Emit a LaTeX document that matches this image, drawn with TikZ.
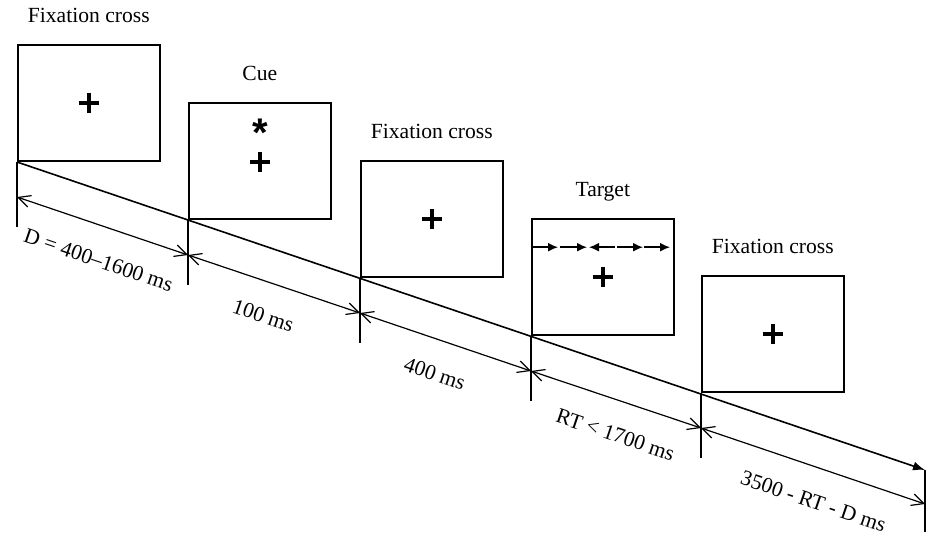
\documentclass[tikz,border=0pt]{standalone}
\usepackage{fontspec}
\setmainfont{Liberation Serif}
\newfontfamily\starfont{Liberation Sans}
\usepackage{tikz}
\usetikzlibrary{arrows.meta,calc}

\begin{document}
\begin{tikzpicture}[x=0.5pt,y=-0.5pt,line width=0.8pt,
    every node/.style={font=\fontsize{10.8pt}{13pt}\selectfont},
    frame/.style={shape=rectangle, draw, anchor=south west, minimum width=71pt, minimum height=58pt, inner sep=0pt},
    title/.style={text depth=0pt, inner sep=0pt, label distance=10.5pt},
    fixcross/.style={shape=rectangle, minimum size=10pt, inner sep=0pt,
        path picture={\draw[line width=2pt] (path picture bounding box.north) -- (path picture bounding box.south)
            (path picture bounding box.west) -- (path picture bounding box.east);}},
    span/.style={{Straight Barb[length=6pt,width=6pt]}-{Straight Barb[length=6pt,width=6pt]}, line width=0.6pt},
    dur/.style={pos=#1, sloped, below=9.5pt},
    dur/.default=0.5,
    flank/.style={-{Latex[length=5pt,width=4.5pt]}, line width=0.8pt}]
    \useasboundingbox (0,0) rectangle (935,547);
    % screens
    \node[frame, label={[title]above:Fixation cross}] (f1) at (17,162) {};
    \node[frame, label={[title]above:Cue}] (f2) at (188,220) {};
    \node[frame, label={[title]above:Fixation cross}] (f3) at (360,278) {};
    \node[frame, label={[title]above:Target}] (f4) at (531,336) {};
    \node[frame, label={[title]above:Fixation cross}] (f5) at (701,393) {};
    \node[fixcross] (x1) at (f1.center) {};
    \node[fixcross] (x2) at ($(f2.center)+(0,1)$) {};
    \node[font=\starfont\bfseries\fontsize{20pt}{20pt}\selectfont, inner sep=0pt] (cue) at ($(f2.center)+(0,-28)$) {*};
    \node[fixcross] (x3) at (f3.center) {};
    \node[fixcross] (x4) at (f4.center) {};
    \node[fixcross] (x5) at (f5.center) {};
    \foreach \a/\b in {2/27, 29/56, 84/58, 86/112, 113/139}
      \draw[flank] ($(f4.west)+(\a,-30)$) -- ($(f4.west)+(\b,-30)$);
    % time line
    \coordinate (e) at (925,470);
    \draw[-{Latex[length=6pt,width=4.5pt]}] (f1.south west) -- (e);
    \draw (e) -- +(0,62);
    \foreach \f in {f1,f2,f3,f4,f5}
      \draw (\f.south west) -- +(0,65);
    \coordinate (d1) at ($(f1.south west)+(0,35)$);
    \coordinate (d2) at ($(f2.south west)+(0,35)$);
    \coordinate (d3) at ($(f3.south west)+(0,35)$);
    \coordinate (d4) at ($(f4.south west)+(0,35)$);
    \coordinate (d5) at ($(f5.south west)+(0,35)$);
    \coordinate (d6) at ($(e)+(0,34)$);
    \draw[span] (d1) -- (d2) node[dur=0.54] {D = 400--1600 ms};
    \draw[span] (d2) -- (d3) node[dur] {100 ms};
    \draw[span] (d3) -- (d4) node[dur] {400 ms};
    \draw[span] (d4) -- (d5) node[dur=0.56] {RT < 1700 ms};
    \draw[span] (d5) -- (d6) node[dur=0.55] {3500 - RT - D ms};
  \end{tikzpicture}
\end{document}
